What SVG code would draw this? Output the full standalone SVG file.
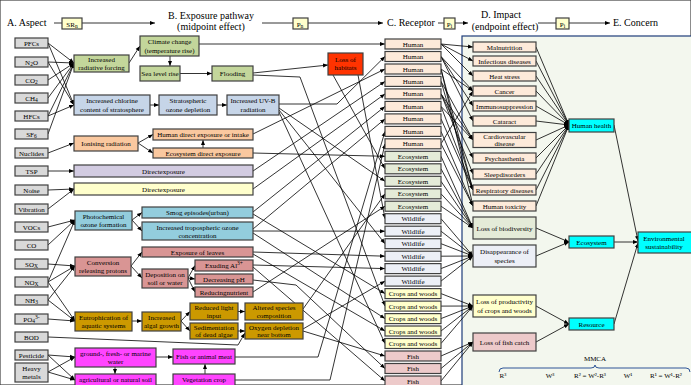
<svg xmlns="http://www.w3.org/2000/svg" width="691" height="385" viewBox="0 0 691 385">
<defs>
<marker id="ar" viewBox="0 0 10 10" refX="10" refY="5" markerWidth="5" markerHeight="5" markerUnits="userSpaceOnUse" orient="auto"><path d="M0,1 L10,5 L0,9 z" fill="#000"/></marker>
<style>
.t{font-family:"Liberation Serif","Times New Roman",serif;font-size:7px;text-anchor:middle;fill:#000}
.h{font-family:"Liberation Serif","Times New Roman",serif;font-size:10px;fill:#000}
rect{stroke:#404040;stroke-width:1.2}
.ab{fill:#D9D9D9}
.gr{fill:#C3D69B}
.bl{fill:#C6D5E8}
.pe{fill:#FAC89F}
.pu{fill:#D2CBE1}
.ye{fill:#FFFFCC}
.cy{fill:#93CDDD}
.pk{fill:#D99594}
.go{fill:#CC9900}
.mg{fill:#FF44FF}
.hu{fill:#FDEADA}
.ec{fill:#E4EBD8}
.wl{fill:#ECEFF6}
.fi{fill:#EDCACA}
.cc{fill:#00FFFF}
.c{fill:none;stroke:#000;stroke-width:0.8;marker-end:url(#ar)}
</style>
</defs>
<rect x="0" y="0" width="691" height="385" fill="#fff" stroke="none"/>
<rect x="462" y="36" width="240" height="360" fill="#F3F7EE" style="stroke:#1F3D7A;stroke-width:1.2"/>

<g id="header">
<text class="h" x="7" y="26">A. Aspect</text>
<path class="c" d="M54,23 L155,23"/>
<rect x="62" y="18" width="20" height="11" class="ye"/>
<text class="t" x="72" y="26.5">SR<tspan font-size="5.5" dy="1.5">n</tspan></text>
<text class="h" x="211" y="19" text-anchor="middle">B. Exposure pathway</text>
<text class="h" x="211" y="30" text-anchor="middle">(midpoint effect)</text>
<path class="c" d="M262,23 L383,23"/>
<rect x="293" y="18" width="15" height="11" class="ye"/>
<text class="t" x="300" y="26.5">P<tspan font-size="5.5" dy="1.5">n</tspan></text>
<text class="h" x="387" y="26">C. Receptor</text>
<path class="c" d="M438,23 L468,23"/>
<rect x="444" y="18" width="11" height="11" class="ye"/>
<text class="t" x="449.5" y="26.5">P<tspan font-size="5.5" dy="1.5">i</tspan></text>
<text class="h" x="501" y="18" text-anchor="middle">D. Impact</text>
<text class="h" x="505" y="30" text-anchor="middle">(endpoint effect)</text>
<path class="c" d="M538,23 L610,23"/>
<rect x="556" y="18" width="13" height="11" class="ye"/>
<text class="t" x="562.5" y="26.5">P<tspan font-size="5.5" dy="1.5">i</tspan></text>
<text class="h" x="613" y="26">E. Concern</text>
</g>

<g id="connectors">
<path class="c" d="M48,43 L74,63"/><path class="c" d="M48,43 L74,105"/>
<path class="c" d="M48,62 L74,63"/><path class="c" d="M48,62 L74,105"/>
<path class="c" d="M48,80 L74,63"/>
<path class="c" d="M48,98 L74,63"/>
<path class="c" d="M48,116 L74,63"/><path class="c" d="M48,116 L74,105"/>
<path class="c" d="M48,134 L74,63"/>
<path class="c" d="M48,153 L74,143"/>
<path class="c" d="M48,171 L74,171"/>
<path class="c" d="M48,190 L74,189"/>
<path class="c" d="M48,209 L74,189"/>
<path class="c" d="M48,227 L75,220"/>
<path class="c" d="M48,245 L75,220"/>
<path class="c" d="M48,264 L75,266"/>
<path class="c" d="M48,282 L75,220"/><path class="c" d="M48,282 L75,266"/><path class="c" d="M48,282 L75,321"/>
<path class="c" d="M48,300 L75,266"/><path class="c" d="M48,300 L75,321"/>
<path class="c" d="M48,319 L75,321"/>
<path class="c" d="M48,337 L238,345 L245,333"/>
<path class="c" d="M48,355 L75,357"/><path class="c" d="M48,355 L75,380"/>
<path class="c" d="M48,372 L75,357"/><path class="c" d="M48,372 L75,380"/>
<path class="c" d="M129,63 L140,46"/>
<path class="c" d="M170,56 L170,66"/>
<path class="c" d="M180,73.5 L212,73.5"/>
<path class="c" d="M150,105 L159,105"/>
<path class="c" d="M217,105 L227,105"/>
<path class="c" d="M138,143 L153,134.5"/>
<path class="c" d="M138,143 L153,153"/>
<path class="c" d="M203,148 L203,140"/>
<path class="c" d="M132,220 L142,212.5"/>
<path class="c" d="M132,220 L142,231"/>
<path class="c" d="M131,266 L142,252"/>
<path class="c" d="M131,266 L142,278"/>
<path class="c" d="M188,278 L195,265.5"/>
<path class="c" d="M188,278 L195,279"/>
<path class="c" d="M188,278 L195,292"/>
<path class="c" d="M132,321 L142,321"/>
<path class="c" d="M181,321 L190,311.5"/>
<path class="c" d="M181,321 L190,331"/>
<path class="c" d="M238,311.5 L245,311.5"/>
<path class="c" d="M238,331 L245,331"/>
<path class="c" d="M156,357 L173,357"/>
<path class="c" d="M115,367 L115,374"/>
<path class="c" d="M205,374 L205,364"/>
<path class="c" d="M253,73 L328,65"/>
<path class="c" d="M199,44 L385,44"/>
<path class="c" d="M279,104 L337,104 L385,56.5"/>
<path class="c" d="M253,134 L385,69"/>
<path class="c" d="M253,171 L385,81.4"/>
<path class="c" d="M253,189 L385,93.9"/>
<path class="c" d="M253,212 L385,106.4"/>
<path class="c" d="M253,229 L385,118.9"/>
<path class="c" d="M235,357 L318,357 L385,131.4"/>
<path class="c" d="M235,380 L330,380 L385,143.8"/>
<path class="c" d="M253,153 L385,156.3"/>
<path class="c" d="M333,75 L385,168.8"/>
<path class="c" d="M279,108 L385,181.3"/>
<path class="c" d="M303,309 L385,193.8"/>
<path class="c" d="M253,292 L385,206.2"/>
<path class="c" d="M358,75 L385,218.7"/>
<path class="c" d="M253,231 L385,231.2"/>
<path class="c" d="M279,110 L385,243.7"/>
<path class="c" d="M253,252 L385,256.2"/>
<path class="c" d="M253,265 L385,268.6"/>
<path class="c" d="M303,329 L385,281.1"/>
<path class="c" d="M253,214 L385,293.6"/>
<path class="c" d="M253,75 L300,77 L385,306.1"/>
<path class="c" d="M253,233 L385,318.6"/>
<path class="c" d="M253,254 L385,331"/>
<path class="c" d="M279,112 L385,343.5"/>
<path class="c" d="M303,331 L385,356"/>
<path class="c" d="M253,280 L296,285 L385,368.5"/>
<path class="c" d="M253,267 L385,381"/>
<path class="c" d="M441,44 L473,47"/><path class="c" d="M441,44 L473,61"/><path class="c" d="M441,44 L473,76"/>
<path class="c" d="M441,56.5 L473,91"/><path class="c" d="M441,56.5 L473,106"/><path class="c" d="M441,56.5 L473,121"/>
<path class="c" d="M441,69 L473,91"/><path class="c" d="M441,69 L473,190"/><path class="c" d="M441,69 L473,206"/>
<path class="c" d="M441,81.4 L473,190"/><path class="c" d="M441,81.4 L473,140"/>
<path class="c" d="M441,93.9 L473,140"/><path class="c" d="M441,93.9 L473,158"/><path class="c" d="M441,93.9 L473,174"/>
<path class="c" d="M441,106.4 L473,190"/><path class="c" d="M441,106.4 L473,140"/>
<path class="c" d="M441,118.9 L473,190"/>
<path class="c" d="M441,131.4 L473,206"/>
<path class="c" d="M441,143.8 L473,91"/><path class="c" d="M441,143.8 L473,206"/>
<path class="c" d="M441,156.3 L473,228"/><path class="c" d="M441,168.8 L473,228"/><path class="c" d="M441,181.3 L473,228"/><path class="c" d="M441,193.8 L473,228"/><path class="c" d="M441,206.2 L473,228"/>
<path class="c" d="M441,218.7 L473,256"/><path class="c" d="M441,231.2 L473,256"/><path class="c" d="M441,243.7 L473,256"/><path class="c" d="M441,256.2 L473,256"/><path class="c" d="M441,268.6 L473,256"/><path class="c" d="M441,281.1 L473,256"/>
<path class="c" d="M441,293.6 L473,306"/><path class="c" d="M441,306.1 L473,306"/><path class="c" d="M441,318.6 L473,306"/><path class="c" d="M441,331 L473,306"/><path class="c" d="M441,343.5 L473,306"/>
<path class="c" d="M441,356 L473,342"/><path class="c" d="M441,368.5 L473,342"/><path class="c" d="M441,381 L473,342"/>
<path class="c" d="M536,47 L569,125"/><path class="c" d="M536,61 L569,125"/><path class="c" d="M536,76 L569,125"/><path class="c" d="M536,91 L569,125"/><path class="c" d="M536,106 L569,125"/><path class="c" d="M536,121 L569,125"/><path class="c" d="M536,140 L569,125"/><path class="c" d="M536,158 L569,125"/><path class="c" d="M536,174 L569,125"/><path class="c" d="M536,190 L569,125"/><path class="c" d="M536,206 L569,125"/>
<path class="c" d="M536,228 L569,242"/><path class="c" d="M536,256 L569,242"/>
<path class="c" d="M536,306 L569,324"/><path class="c" d="M536,342 L569,324"/>
<path class="c" d="M614,125 L638,241"/>
<path class="c" d="M614,242 L638,242"/>
<path class="c" d="M614,324 L638,243"/>
</g>

<g id="asp-pfcs"><rect class="ab" x="15" y="38" width="33" height="10"/><text class="t" x="31.5" y="45.5">PFCs</text></g>
<g id="asp-n2o"><rect class="ab" x="15" y="57" width="33" height="10"/><text class="t" x="31.5" y="64.5">N<tspan font-size="5.5" dy="1.5">2</tspan><tspan dy="-1.5">O</tspan></text></g>
<g id="asp-co2"><rect class="ab" x="15" y="75" width="33" height="10"/><text class="t" x="31.5" y="82.5">CO<tspan font-size="5.5" dy="1.5">2</tspan></text></g>
<g id="asp-ch4"><rect class="ab" x="15" y="93" width="33" height="10"/><text class="t" x="31.5" y="100.5">CH<tspan font-size="5.5" dy="1.5">4</tspan></text></g>
<g id="asp-hfcs"><rect class="ab" x="15" y="111" width="33" height="10"/><text class="t" x="31.5" y="118.5">HFCs</text></g>
<g id="asp-sf6"><rect class="ab" x="15" y="129" width="33" height="10"/><text class="t" x="31.5" y="136.5">SF<tspan font-size="5.5" dy="1.5">6</tspan></text></g>
<g id="asp-nuclides"><rect class="ab" x="15" y="148" width="33" height="10"/><text class="t" x="31.5" y="155.5">Nuclides</text></g>
<g id="asp-tsp"><rect class="ab" x="15" y="166" width="33" height="10"/><text class="t" x="31.5" y="173.5">TSP</text></g>
<g id="asp-noise"><rect class="ab" x="15" y="185" width="33" height="10"/><text class="t" x="31.5" y="192.5">Noise</text></g>
<g id="asp-vibration"><rect class="ab" x="15" y="204" width="33" height="10"/><text class="t" x="31.5" y="211.5">Vibration</text></g>
<g id="asp-vocs"><rect class="ab" x="15" y="222" width="33" height="10"/><text class="t" x="31.5" y="229.5">VOCs</text></g>
<g id="asp-co"><rect class="ab" x="15" y="240" width="33" height="10"/><text class="t" x="31.5" y="247.5">CO</text></g>
<g id="asp-sox"><rect class="ab" x="15" y="259" width="33" height="10"/><text class="t" x="31.5" y="266.5">SO<tspan font-size="5.5" dy="1.5">X</tspan></text></g>
<g id="asp-nox"><rect class="ab" x="15" y="277" width="33" height="10"/><text class="t" x="31.5" y="284.5">NO<tspan font-size="5.5" dy="1.5">X</tspan></text></g>
<g id="asp-nh3"><rect class="ab" x="15" y="295" width="33" height="10"/><text class="t" x="31.5" y="302.5">NH<tspan font-size="5.5" dy="1.5">3</tspan></text></g>
<g id="asp-po4"><rect class="ab" x="15" y="314" width="33" height="10"/><text class="t" x="31.5" y="321.5">PO<tspan font-size="5.5" dy="1.5">4</tspan><tspan font-size="5.5" dy="-4.5">3-</tspan></text></g>
<g id="asp-bod"><rect class="ab" x="15" y="332" width="33" height="10"/><text class="t" x="31.5" y="339.5">BOD</text></g>
<g id="asp-pesticide"><rect class="ab" x="15" y="350" width="33" height="10"/><text class="t" x="31.5" y="357.5">Pesticide</text></g>
<g id="asp-heavymetals"><rect class="ab" x="15" y="363" width="33" height="19"/><text class="t" x="31.5" y="370.5">Heavy</text><text class="t" x="31.5" y="379">metals</text></g>

<g id="p-irf"><rect class="gr" x="74" y="55" width="55" height="17"/><text class="t" x="101.5" y="62">Increased</text><text class="t" x="101.5" y="69.5">radiative forcing</text></g>
<g id="p-climate"><rect class="gr" x="140" y="36" width="59" height="20"/><text class="t" x="169.5" y="44">Climate change</text><text class="t" x="169.5" y="52.5">(temperature rise)</text></g>
<g id="p-sealevel"><rect class="gr" x="140" y="66" width="40" height="15"/><text class="t" x="160" y="76">Sea level rise</text></g>
<g id="p-flooding"><rect class="gr" x="212" y="66" width="41" height="15"/><text class="t" x="232.5" y="76">Flooding</text></g>
<g id="p-chlorine"><rect class="bl" x="74" y="95" width="76" height="20"/><text class="t" x="112" y="103">Increased chlorine</text><text class="t" x="112" y="111.5">content of stratosphere</text></g>
<g id="p-ozonedep"><rect class="bl" x="159" y="95" width="58" height="20"/><text class="t" x="188" y="103">Stratospheric</text><text class="t" x="188" y="111.5">ozone depletion</text></g>
<g id="p-uvb"><rect class="bl" x="227" y="95" width="52" height="20"/><text class="t" x="253" y="103">Increased UV-B</text><text class="t" x="253" y="111.5">radiation</text></g>
<g id="p-ionising"><rect class="pe" x="74" y="136" width="64" height="15"/><text class="t" x="106" y="146">Ionising radiation</text></g>
<g id="p-humandirect"><rect class="pe" x="153" y="129" width="100" height="11"/><text class="t" x="203" y="137">Human direct exposure or intake</text></g>
<g id="p-ecodirect"><rect class="pe" x="153" y="148" width="100" height="10"/><text class="t" x="203" y="155.5">Ecosystem direct exposure</text></g>
<g id="p-direct1"><rect class="pu" x="74" y="165" width="179" height="12"/><text class="t" x="163.5" y="173.5">Directexposure</text></g>
<g id="p-direct2"><rect class="ye" x="74" y="183" width="179" height="12"/><text class="t" x="163.5" y="191.5">Directexposure</text></g>
<g id="p-photochem"><rect class="cy" x="75" y="211" width="57" height="19"/><text class="t" x="103.5" y="219">Photochemical</text><text class="t" x="103.5" y="227">ozone formation</text></g>
<g id="p-smog"><rect class="cy" x="142" y="207" width="111" height="11"/><text class="t" x="197.5" y="215">Smog episodes(urban)</text></g>
<g id="p-tropo"><rect class="cy" x="142" y="222" width="111" height="18"/><text class="t" x="197.5" y="229.5">Increased tropospheric ozone</text><text class="t" x="197.5" y="237.5">concentration</text></g>
<g id="p-conversion"><rect class="pk" x="75" y="257" width="56" height="19"/><text class="t" x="103" y="265">Conversion</text><text class="t" x="103" y="273">releasing protons</text></g>
<g id="p-leaves"><rect class="pk" x="142" y="247" width="111" height="10"/><text class="t" x="197.5" y="254.5">Exposure of leaves</text></g>
<g id="p-deposition"><rect class="pk" x="142" y="269" width="46" height="19"/><text class="t" x="165" y="277">Deposition on</text><text class="t" x="165" y="285">soil or water</text></g>
<g id="p-exuding"><rect class="pk" x="195" y="260" width="58" height="11"/><text class="t" x="224" y="268">Exuding Al<tspan font-size="5.5" dy="-3">3+</tspan></text></g>
<g id="p-ph"><rect class="pk" x="195" y="274" width="58" height="10"/><text class="t" x="224" y="281.5">Decreasing pH</text></g>
<g id="p-nutrient"><rect class="pk" x="195" y="287" width="58" height="10"/><text class="t" x="224" y="294.5">Reducingnutrient</text></g>
<g id="p-eutroph"><rect class="go" x="75" y="312" width="57" height="19"/><text class="t" x="103.5" y="320">Eutrophication of</text><text class="t" x="103.5" y="328">aquatic systems</text></g>
<g id="p-algal"><rect class="go" x="142" y="312" width="39" height="19"/><text class="t" x="161.5" y="320">Increased</text><text class="t" x="161.5" y="328">algal growth</text></g>
<g id="p-light"><rect class="go" x="190" y="303" width="48" height="17"/><text class="t" x="214" y="310">Reduced light</text><text class="t" x="214" y="317.5">input</text></g>
<g id="p-sediment"><rect class="go" x="190" y="323" width="48" height="16"/><text class="t" x="214" y="330">Sedimentation</text><text class="t" x="214" y="337">of dead algae</text></g>
<g id="p-altered"><rect class="go" x="245" y="303" width="58" height="17"/><text class="t" x="274" y="310">Altered species</text><text class="t" x="274" y="317.5">composition</text></g>
<g id="p-oxygen"><rect class="go" x="245" y="323" width="58" height="16"/><text class="t" x="274" y="330">Oxygen depletion</text><text class="t" x="274" y="337">near bottom</text></g>
<g id="p-water"><rect class="mg" x="75" y="348" width="81" height="19"/><text class="t" x="115.5" y="356">ground-, fresh- or marine</text><text class="t" x="115.5" y="364">water</text></g>
<g id="p-meat"><rect class="mg" x="173" y="349" width="62" height="15"/><text class="t" x="204" y="359">Fish or animal meat</text></g>
<g id="p-soil"><rect class="mg" x="75" y="374" width="81" height="13"/><text class="t" x="115.5" y="382">agricultural or natural soil</text></g>
<g id="p-veg"><rect class="mg" x="173" y="374" width="62" height="13"/><text class="t" x="204" y="382">Vegetation crop</text></g>
<g id="p-habitats"><rect x="328" y="53" width="35" height="22" fill="#FF3300"/><text class="t" x="345.5" y="62">Loss of</text><text class="t" x="345.5" y="70">habitats</text></g>

<g id="r0"><rect class="hu" x="385" y="39" width="56" height="10"/><text class="t" x="413" y="46.5">Human</text></g>
<g id="r1"><rect class="hu" x="385" y="51.5" width="56" height="10"/><text class="t" x="413" y="59">Human</text></g>
<g id="r2"><rect class="hu" x="385" y="64" width="56" height="10"/><text class="t" x="413" y="71.5">Human</text></g>
<g id="r3"><rect class="hu" x="385" y="76.4" width="56" height="10"/><text class="t" x="413" y="83.9">Human</text></g>
<g id="r4"><rect class="hu" x="385" y="88.9" width="56" height="10"/><text class="t" x="413" y="96.4">Human</text></g>
<g id="r5"><rect class="hu" x="385" y="101.4" width="56" height="10"/><text class="t" x="413" y="108.9">Human</text></g>
<g id="r6"><rect class="hu" x="385" y="113.9" width="56" height="10"/><text class="t" x="413" y="121.4">Human</text></g>
<g id="r7"><rect class="hu" x="385" y="126.4" width="56" height="10"/><text class="t" x="413" y="133.9">Human</text></g>
<g id="r8"><rect class="hu" x="385" y="138.8" width="56" height="10"/><text class="t" x="413" y="146.3">Human</text></g>
<g id="r9"><rect class="ec" x="385" y="151.3" width="56" height="10"/><text class="t" x="413" y="158.8">Ecosystem</text></g>
<g id="r10"><rect class="ec" x="385" y="163.8" width="56" height="10"/><text class="t" x="413" y="171.3">Ecosystem</text></g>
<g id="r11"><rect class="ec" x="385" y="176.3" width="56" height="10"/><text class="t" x="413" y="183.8">Ecosystem</text></g>
<g id="r12"><rect class="ec" x="385" y="188.8" width="56" height="10"/><text class="t" x="413" y="196.3">Ecosystem</text></g>
<g id="r13"><rect class="ec" x="385" y="201.2" width="56" height="10"/><text class="t" x="413" y="208.7">Ecosystem</text></g>
<g id="r14"><rect class="wl" x="385" y="213.7" width="56" height="10"/><text class="t" x="413" y="221.2">Wildlife</text></g>
<g id="r15"><rect class="wl" x="385" y="226.2" width="56" height="10"/><text class="t" x="413" y="233.7">Wildlife</text></g>
<g id="r16"><rect class="wl" x="385" y="238.7" width="56" height="10"/><text class="t" x="413" y="246.2">Wildlife</text></g>
<g id="r17"><rect class="wl" x="385" y="251.2" width="56" height="10"/><text class="t" x="413" y="258.7">Wildlife</text></g>
<g id="r18"><rect class="wl" x="385" y="263.6" width="56" height="10"/><text class="t" x="413" y="271.1">Wildlife</text></g>
<g id="r19"><rect class="wl" x="385" y="276.1" width="56" height="10"/><text class="t" x="413" y="283.6">Wildlife</text></g>
<g id="r20"><rect class="ye" x="385" y="288.6" width="56" height="10"/><text class="t" x="413" y="296.1">Crops and woods</text></g>
<g id="r21"><rect class="ye" x="385" y="301.1" width="56" height="10"/><text class="t" x="413" y="308.6">Crops and woods</text></g>
<g id="r22"><rect class="ye" x="385" y="313.6" width="56" height="10"/><text class="t" x="413" y="321.1">Crops and woods</text></g>
<g id="r23"><rect class="ye" x="385" y="326" width="56" height="10"/><text class="t" x="413" y="333.5">Crops and woods</text></g>
<g id="r24"><rect class="ye" x="385" y="338.5" width="56" height="10"/><text class="t" x="413" y="346">Crops and woods</text></g>
<g id="r25"><rect class="fi" x="385" y="351" width="56" height="10"/><text class="t" x="413" y="358.5">Fish</text></g>
<g id="r26"><rect class="fi" x="385" y="363.5" width="56" height="10"/><text class="t" x="413" y="371">Fish</text></g>
<g id="r27"><rect class="fi" x="385" y="376" width="56" height="10"/><text class="t" x="413" y="383.5">Fish</text></g>

<g id="i-malnutrition"><rect class="hu" x="473" y="42" width="63" height="10"/><text class="t" x="504.5" y="49.5">Malnutrition</text></g>
<g id="i-infectious"><rect class="hu" x="473" y="56" width="63" height="10"/><text class="t" x="504.5" y="63.5">Infectious diseases</text></g>
<g id="i-heat"><rect class="hu" x="473" y="71" width="63" height="10"/><text class="t" x="504.5" y="78.5">Heat stress</text></g>
<g id="i-cancer"><rect class="hu" x="473" y="86" width="63" height="10"/><text class="t" x="504.5" y="93.5">Cancer</text></g>
<g id="i-immuno"><rect class="hu" x="473" y="101" width="63" height="10"/><text class="t" x="504.5" y="108.5">Immunosuppression</text></g>
<g id="i-cataract"><rect class="hu" x="473" y="116" width="63" height="10"/><text class="t" x="504.5" y="123.5">Cataract</text></g>
<g id="i-cardio"><rect class="hu" x="473" y="132.5" width="63" height="15"/><text class="t" x="504.5" y="138.5">Cardiovascular</text><text class="t" x="504.5" y="146">disease</text></g>
<g id="i-psych"><rect class="hu" x="473" y="153" width="63" height="10"/><text class="t" x="504.5" y="160.5">Psychasthenia</text></g>
<g id="i-sleep"><rect class="hu" x="473" y="169" width="63" height="10"/><text class="t" x="504.5" y="176.5">Sleepdisorders</text></g>
<g id="i-resp"><rect class="hu" x="473" y="185" width="63" height="10"/><text class="t" x="504.5" y="192.5">Respiratory diseases</text></g>
<g id="i-tox"><rect class="hu" x="473" y="201" width="63" height="10"/><text class="t" x="504.5" y="208.5">Human toxicity</text></g>
<g id="i-biodiv"><rect class="ec" x="473" y="217" width="63" height="22"/><text class="t" x="504.5" y="230.5">Loss of biodiversity</text></g>
<g id="i-species"><rect class="wl" x="473" y="245" width="63" height="22"/><text class="t" x="504.5" y="254">Disappearance of</text><text class="t" x="504.5" y="262.5">species</text></g>
<g id="i-productivity"><rect class="ye" x="473" y="295" width="63" height="22"/><text class="t" x="504.5" y="304">Loss of productivity</text><text class="t" x="504.5" y="312.5">of crops and woods</text></g>
<g id="i-fishcatch"><rect class="fi" x="473" y="333" width="63" height="18"/><text class="t" x="504.5" y="344.5">Loss of fish catch</text></g>

<g id="c-human"><rect class="cc" x="569" y="119" width="45" height="13"/><text class="t" x="591.5" y="128">Human health</text></g>
<g id="c-eco"><rect class="cc" x="569" y="236" width="45" height="12"/><text class="t" x="591.5" y="244.5">Ecosystem</text></g>
<g id="c-resource"><rect class="cc" x="569" y="318" width="45" height="12"/><text class="t" x="591.5" y="326.5">Resource</text></g>
<g id="c-env"><rect class="cc" x="638" y="232" width="55" height="21"/><text class="t" x="664" y="240.5">Environmental</text><text class="t" x="664" y="249">sustainability</text></g>

<g id="mmca">
<text class="t" x="595" y="361">MMCA</text>
<path d="M499,372 Q499,368 503,368 L591,368 Q595,368 595,365 Q595,368 599,368 L686,368 Q690,368 690,372" fill="none" stroke="#2E5597" stroke-width="1"/>
<text class="t" x="503" y="378">R³</text>
<text class="t" x="550" y="378">W³</text>
<text class="t" x="590" y="378">R² = W²-R³</text>
<text class="t" x="628" y="378">W¹</text>
<text class="t" x="666" y="378">R¹ = W¹-R²</text>
</g>
</svg>
